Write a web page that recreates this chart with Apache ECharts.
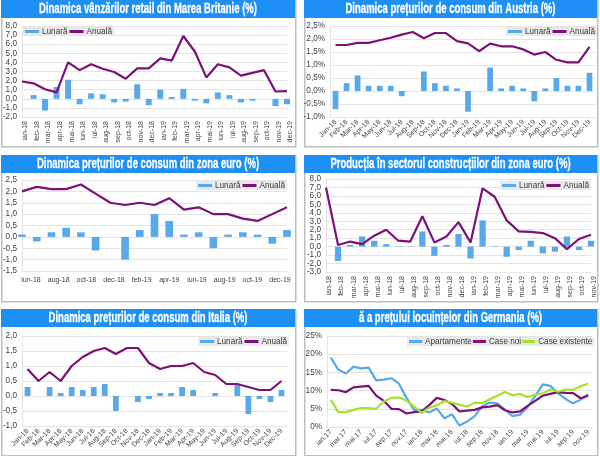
<!DOCTYPE html>
<html>
<head>
<meta charset="utf-8">
<script src="https://cdn.jsdelivr.net/npm/echarts@6/dist/echarts.min.js"></script>
<style>
  html, body { margin: 0; padding: 0; background: #fff; }
  .panel { position: absolute; }
</style>
</head>
<body>
<div class="panel" id="p1" style="left:0;top:0;width:297px;height:148px"></div>
<div class="panel" id="p2" style="left:303px;top:0;width:297px;height:148px"></div>
<div class="panel" id="p3" style="left:0;top:155px;width:297px;height:148px"></div>
<div class="panel" id="p4" style="left:303px;top:155px;width:297px;height:148px"></div>
<div class="panel" id="p5" style="left:0;top:309px;width:297px;height:147px"></div>
<div class="panel" id="p6" style="left:303px;top:309px;width:297px;height:147px"></div>
<script>
const ukMonths = ['ian-18','feb-18','mar-18','apr-18','mai-18','iun-18','iul-18','aug-18','sep-18','oct-18','nov-18','dec-18','ian-19','feb-19','mar-19','apr-19','mai-19','iun-19','iul-19','aug-19','sep-19','oct-19','nov-19','dec-19'];
const ukMonthly = [0, 0.4, -1.3, 1.3, 2.1, -0.6, 0.6, 0.5, -0.4, -0.3, 1.6, -0.7, 1.0, 0.2, 1.1, -0.2, -0.5, 0.7, 0.4, -0.4, -0.2, 0, -0.8, -0.6];
const ukYearly = [1.9, 1.7, 1.05, 0.7, 4.0, 3.15, 3.8, 3.3, 2.95, 2.2, 3.35, 3.35, 4.45, 4.2, 6.9, 5.2, 2.35, 3.8, 3.45, 2.55, 2.85, 3.15, 0.8, 0.85];

const enMonths = ['Jan-18','Feb-18','Mar-18','Apr-18','May-18','Jun-18','Jul-18','Aug-18','Sep-18','Oct-18','Nov-18','Dec-18','Jan-19','Feb-19','Mar-19','Apr-19','May-19','Jun-19','Jul-19','Aug-19','Sep-19','Oct-19','Nov-19','Dec-19'];
const atMonthly = [-0.7, 0.3, 0.6, 0.2, 0.2, 0.2, -0.2, 0, 0.75, 0.3, 0.2, 0.1, -0.8, 0, 0.9, 0.1, 0.2, 0.1, -0.4, 0.1, 0.5, 0.2, 0.2, 0.7];
const atYearly = [1.77, 1.77, 1.85, 1.85, 1.95, 2.05, 2.17, 2.27, 2.03, 2.23, 2.23, 1.92, 1.83, 1.53, 1.82, 1.72, 1.72, 1.6, 1.4, 1.5, 1.2, 1.1, 1.1, 1.7];

const ezMonths = ['iun-18','iul-18','aug-18','sep-18','oct-18','nov-18','dec-18','ian-19','feb-19','mar-19','apr-19','mai-19','iun-19','iul-19','aug-19','sep-19','oct-19','nov-19','dec-19'];
const ezLabels = ['iun-18','aug-18','oct-18','dec-18','feb-19','apr-19','iun-19','aug-19','oct-19','dec-19'];
const ezMonthly = [0.1, -0.2, 0.2, 0.4, 0.2, -0.6, 0, -1.0, 0.3, 1.0, 0.7, 0.1, 0.2, -0.5, 0.1, 0.2, 0.1, -0.3, 0.3];
const ezYearly = [2.0, 2.2, 2.1, 2.1, 2.3, 1.9, 1.5, 1.4, 1.5, 1.4, 1.7, 1.2, 1.3, 1.0, 1.0, 0.8, 0.7, 1.0, 1.3];

const buildMonths = ['ian-18','feb-18','mar-18','apr-18','mai-18','iun-18','iul-18','aug-18','sep-18','oct-18','nov-18','dec-18','ian-19','feb-19','mar-19','apr-19','mai-19','iun-19','iul-19','aug-19','sep-19','oct-19','nov-19'];
const buildMonthly = [0, -1.7, 0.2, 1.2, 0.7, 0.3, 0.05, 0.05, 1.8, -1.1, 0.2, 1.5, -1.4, 3.1, 0.05, -1.2, -0.4, 0.7, -0.8, -0.6, 1.2, -0.4, 0.7];
const buildYearly = [7.0, 0.2, 0.6, 0.3, 1.3, 2.0, 0.7, 0.6, 3.6, 0.5, 1.2, 2.9, 0.5, 6.9, 5.9, 3.1, 1.8, 1.75, 1.6, 1.0, -0.3, 0.9, 1.4];

const itMonthly = [0.3, 0, 0.3, 0.1, 0.3, 0.2, 0.3, 0.4, -0.5, 0, -0.2, -0.1, 0.1, 0.1, 0.3, 0.2, 0, 0.1, 0, 0.4, -0.6, -0.1, -0.2, 0.2];
const itYearly = [0.9, 0.5, 0.8, 0.5, 1.0, 1.3, 1.5, 1.6, 1.4, 1.6, 1.6, 1.1, 0.9, 1.0, 1.0, 1.1, 0.8, 0.7, 0.4, 0.4, 0.3, 0.2, 0.2, 0.5];

const deMonths = ['ian.17','feb.17','mar.17','apr.17','mai.17','iun.17','iul.17','aug.17','sep.17','oct.17','nov.17','dec.17','ian.18','feb.18','mar.18','apr.18','mai.18','iun.18','iul.18','aug.18','sep.18','oct.18','nov.18','dec.18','ian.19','feb.19','mar.19','apr.19','mai.19','iun.19','iul.19','aug.19','sep.19','oct.19','nov.19'];
const deFlats = [19.1, 15.7, 14.7, 16.6, 16.1, 16.3, 12.8, 13.0, 13.4, 11.9, 8.0, 4.7, 4.7, 4.0, 5.1, 2.4, 3.5, 0.4, 1.5, 3.0, 5.7, 6.7, 6.5, 4.8, 3.0, 3.4, 5.5, 8.5, 11.7, 11.3, 9.3, 7.7, 6.5, 7.5, 9.0];
const deNew = [10.2, 10.1, 9.6, 10.9, 11.1, 11.3, 8.6, 7.2, 5.0, 4.9, 3.7, 4.1, 4.3, 6.0, 8.0, 7.4, 6.3, 4.3, 4.5, 4.7, 5.4, 5.6, 6.0, 4.6, 4.0, 4.3, 5.8, 7.2, 8.6, 9.1, 9.6, 9.4, 9.3, 7.9, 8.6];
const deExisting = [7.5, 4.1, 4.1, 4.7, 5.2, 5.2, 5.0, 7.0, 8.0, 8.1, 7.3, 5.6, 3.9, 5.3, 6.0, 7.1, 6.7, 6.1, 5.6, 6.7, 6.6, 7.6, 8.6, 9.6, 8.7, 9.1, 8.2, 8.9, 9.2, 10.3, 9.7, 10.3, 10.2, 11.2, 11.9];

const BLUE = '#57A9EC', PURPLE = '#7C1275', GREEN = '#A4E22C', GRID = '#E4E4E4', TEXT = '#404040';
const comma = v => v.toFixed(1).replace('.', ',');
const commaPct = v => comma(v) + '%';

// panel frame, title bar and the option parts every chart shares
function baseOption(p) {
    return {
        animation: false,
        textStyle: { fontFamily: 'Liberation Sans' },
        graphic: [
            { type: 'rect', left: p.frameLeft, top: 0, shape: { width: p.frameWidth, height: p.frameHeight }, style: { fill: '#fff', stroke: '#BEBEBE', lineWidth: 1.5 }, z: -2 },
            { type: 'rect', left: p.frameLeft, top: 0, shape: { width: p.frameWidth, height: 18 }, style: { fill: '#1E8FF5' }, z: -1 },
            // titles are a narrow heavy face in the source, none is installed so squeeze a bold one
            { type: 'text', x: p.frameLeft + p.frameWidth / 2, y: 9.5, scaleX: 0.68, z: 5,
              style: { text: p.title, align: 'center', verticalAlign: 'middle', fill: '#fff', stroke: '#fff', lineWidth: 0.3, font: 'bold 14px "Liberation Sans"' } }
        ],
        legend: Object.assign({
            left: p.legend[0], top: p.legend[1], width: p.legend[2], padding: [0, 2], itemGap: 2, itemWidth: 14, itemHeight: 3, icon: 'rect',
            backgroundColor: '#E9E9E9', textStyle: { color: TEXT, fontSize: 8.2, lineHeight: 9, padding: [0, 0, 0, -2] }
        }, p.legendExtra),
        grid: { outerBoundsMode: 'none', left: p.grid[0], top: p.grid[1], width: p.grid[2], height: p.grid[3] },
        yAxis: {
            type: 'value', min: p.y[0], max: p.y[1], interval: p.y[2],
            axisLine: { show: true, lineStyle: { color: GRID } }, axisTick: { show: false },
            axisLabel: { color: TEXT, fontSize: 8.2, margin: 5, formatter: p.fmt, hideOverlap: false, showMinLabel: true, showMaxLabel: true },
            splitLine: { lineStyle: { color: GRID } }
        }
    };
}

function xAxisOf(cats, gap, rotate, labelStyle) {
    return {
        type: 'category', data: cats, boundaryGap: gap,
        axisLine: { onZero: false, lineStyle: { color: GRID } }, axisTick: { show: false },
        axisLabel: Object.assign({ color: TEXT, fontSize: 7, interval: 0, rotate: rotate, margin: 4, hideOverlap: false }, labelStyle)
    };
}

function barLine(monthly, yearly) {
    return [
        { name: 'Lunară', type: 'bar', data: monthly, barWidth: '52%', itemStyle: { color: BLUE } },
        { name: 'Anuală', type: 'line', data: yearly, showSymbol: false, lineStyle: { color: PURPLE, width: 2.2 }, itemStyle: { color: PURPLE } }
    ];
}

function draw(id, p, xAxis, series) {
    const chart = echarts.init(document.getElementById(id));
    chart.setOption(Object.assign(baseOption(p), { xAxis: xAxis, series: series }));
    return chart;
}

draw('p1', { title: 'Dinamica vânzărilor retail din Marea Britanie (%)', frameLeft: 1, frameWidth: 294, frameHeight: 146,
    legend: [23, 27, 120], grid: [22, 26, 265, 91], y: [-2, 8, 1], fmt: comma },
    xAxisOf(ukMonths, false, 90, { verticalAlign: 'top' }), barLine(ukMonthly, ukYearly));

draw('p2', { title: 'Dinamica prețurilor de consum din Austria (%)', frameLeft: 1, frameWidth: 293, frameHeight: 146,
    legend: [203, 27, 120], grid: [27, 26, 265, 91], y: [-1, 2.5, 0.5], fmt: commaPct },
    xAxisOf(enMonths, true, 45, {}), barLine(atMonthly, atYearly));

// the source spreads its ten date labels evenly, not on the ticks, so they sit on their own axis
const p3 = draw('p3', { title: 'Dinamica prețurilor de consum din zona euro (%)', frameLeft: 1, frameWidth: 294, frameHeight: 146,
    legend: [196, 26, 120], grid: [22, 25, 265, 91], y: [-1.5, 2.5, 0.5], fmt: comma },
    xAxisOf(ezMonths, false, 0, { show: false }), barLine(ezMonthly, ezYearly));
p3.setOption({
    grid: [{}, { outerBoundsMode: 'none', left: 31, top: 116, width: 249, height: 0 }],
    xAxis: [{}, Object.assign(xAxisOf(ezLabels, false, 0, { margin: 6 }), { gridIndex: 1, axisLine: { show: false } })],
    yAxis: [{}, { gridIndex: 1, show: false }]
});

draw('p4', { title: 'Producția în sectorul construcțiilor din zona euro (%)', frameLeft: 1, frameWidth: 293, frameHeight: 146,
    legend: [197, 26, 120], grid: [23, 24, 265, 93], y: [-3, 8, 1], fmt: comma },
    xAxisOf(buildMonths, false, 90, { verticalAlign: 'top' }), barLine(buildMonthly, buildYearly));

draw('p5', { title: 'Dinamica prețurilor de consum din Italia (%)', frameLeft: 1, frameWidth: 294, frameHeight: 146,
    legend: [198, 28, 120], grid: [22, 27, 265, 90], y: [-1, 2, 0.5], fmt: comma },
    xAxisOf(enMonths, true, 45, {}), barLine(itMonthly, itYearly));

draw('p6', { title: 'ă a prețului locuințelor din Germania (%)', frameLeft: 1, frameWidth: 293, frameHeight: 146,
    legend: [104, 28, 192], legendExtra: { itemWidth: 13, itemGap: 1 }, grid: [24, 27, 265, 91], y: [0, 25, 5], fmt: v => v + '%' },
    xAxisOf(deMonths, true, 45, { interval: 1 }),
    [
        { name: 'Apartamente', type: 'line', data: deFlats, showSymbol: false, lineStyle: { color: BLUE, width: 2.2 }, itemStyle: { color: BLUE } },
        { name: 'Case noi', type: 'line', data: deNew, showSymbol: false, lineStyle: { color: PURPLE, width: 2.2 }, itemStyle: { color: PURPLE } },
        { name: 'Case existente', type: 'line', data: deExisting, showSymbol: false, lineStyle: { color: GREEN, width: 2.2 }, itemStyle: { color: GREEN } }
    ]);
</script>
</body>
</html>
